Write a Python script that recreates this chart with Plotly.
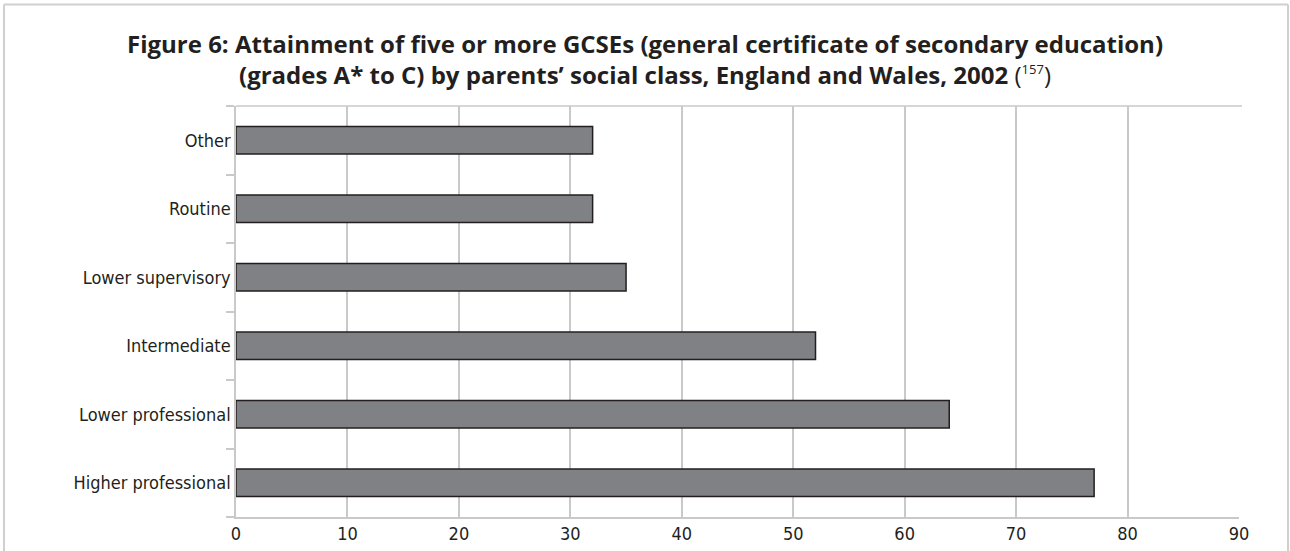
import plotly.graph_objects as go

categories = ["Higher professional", "Lower professional", "Intermediate",
              "Lower supervisory", "Routine", "Other"]
values = [77, 64, 52, 35, 32, 32]
x_ticks = [0, 10, 20, 30, 40, 50, 60, 70, 80, 90]

W, H = 1290, 551
L, R, T, B = 236, 51, 106, 34
pw = W - L - R
ph = H - T - B

def px_x(p):
    return (p - L) / pw

def px_y(p):
    return (H - B - p) / ph

fig = go.Figure()
fig.add_trace(go.Bar(
    y=categories, x=values, orientation="h",
    marker=dict(color="#808184", line=dict(color="#231f20", width=1.5)),
    width=0.4,
))

grid = "#c9c9c9"
fig.update_layout(
    width=W, height=H,
    margin=dict(l=L, r=R, t=T, b=B, autoexpand=False),
    paper_bgcolor="white", plot_bgcolor="white",
    showlegend=False,
    font=dict(family="Liberation Sans Narrow, DejaVu Sans Condensed, sans-serif",
              size=18, color="#231f20"),
    xaxis=dict(range=[0, 90], tickvals=x_ticks, showgrid=True, gridcolor=grid,
               gridwidth=1.5, showline=True, linecolor=grid, linewidth=1.5,
               ticks="", zeroline=False, fixedrange=True, automargin=False),
    yaxis=dict(type="category", categoryorder="array", categoryarray=categories,
               showline=True, linecolor=grid, linewidth=1.5, ticks="outside",
               tickson="boundaries", ticklen=8, tickcolor=grid, tickwidth=1.5,
               showgrid=False, fixedrange=True, automargin=False),
    bargap=0.6,
)

# top border line of plot area
fig.add_shape(type="line", xref="paper", yref="paper", x0=0, x1=px_x(1242),
              y0=1, y1=1, line=dict(color=grid, width=1.5))
# outer frame (left, top, right)
frame = "#d0d0d0"
fig.add_shape(type="line", xref="paper", yref="paper", x0=px_x(4), x1=px_x(4),
              y0=px_y(4.5), y1=px_y(560), line=dict(color=frame, width=2))
fig.add_shape(type="line", xref="paper", yref="paper", x0=px_x(1288), x1=px_x(1288),
              y0=px_y(4.5), y1=px_y(560), line=dict(color=frame, width=2))
fig.add_shape(type="line", xref="paper", yref="paper", x0=px_x(4), x1=px_x(1288),
              y0=px_y(4.5), y1=px_y(4.5), line=dict(color=frame, width=2))

title_font = dict(family="Open Sans, Noto Sans, sans-serif", size=24, color="#231f20")
fig.add_annotation(xref="paper", yref="paper", x=px_x(645), y=px_y(44),
                   text="<b>Figure 6: Attainment of five or more GCSEs (general certificate of secondary education)</b>",
                   showarrow=False, font=title_font, xanchor="center", yanchor="middle")
fig.add_annotation(xref="paper", yref="paper", x=px_x(645), y=px_y(74),
                   text="<b>(grades A* to C) by parents’ social class, England and Wales, 2002 </b>(<sup><span style='font-size:13px'>157</span></sup>)",
                   showarrow=False, font=title_font, xanchor="center", yanchor="middle")

fig.write_html("out.html",
               config={"displayModeBar": False},
               post_script="document.body.style.margin='0';document.body.style.overflow='hidden';")
